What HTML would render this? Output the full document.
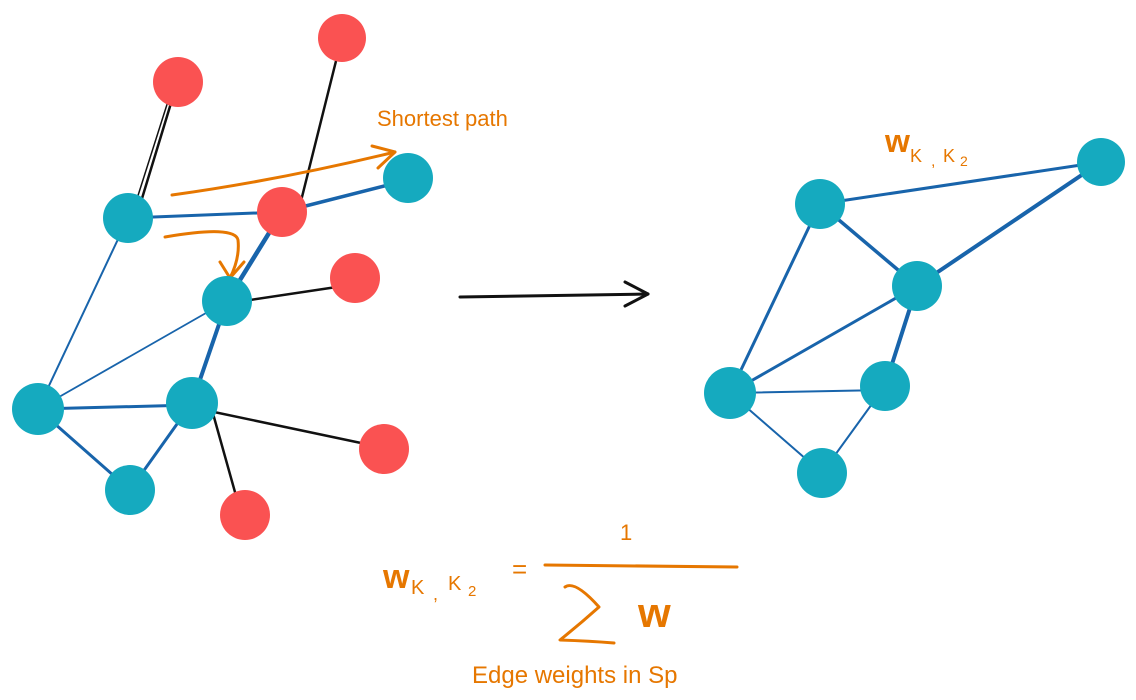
<!DOCTYPE html>
<html><head><meta charset="utf-8"><style>html,body{margin:0;padding:0;background:#fff}svg{display:block}</style></head>
<body>
<svg width="1136" height="700" viewBox="0 0 1136 700" xmlns="http://www.w3.org/2000/svg">
<g stroke-linecap="round" stroke-linejoin="round" fill="none">
<g stroke="#111" stroke-width="2.5">
<line x1="175" y1="90" x2="140" y2="205"/><line x1="170" y1="95" x2="135" y2="205" stroke-width="1.5"/>
<line x1="340" y1="45" x2="300" y2="205"/>
<line x1="230" y1="303" x2="350" y2="285"/>
<line x1="195" y1="408" x2="380" y2="447"/>
<line x1="212" y1="410" x2="240" y2="510"/>
</g>
<g stroke="#1864ab">
<line x1="128" y1="218" x2="282" y2="212" stroke-width="3"/>
<line x1="282" y1="212" x2="408" y2="180" stroke-width="3.5"/>
<line x1="282" y1="212" x2="227" y2="301" stroke-width="4.5"/>
<line x1="128" y1="218" x2="38" y2="409" stroke-width="2"/>
<line x1="227" y1="301" x2="38" y2="409" stroke-width="1.8"/>
<line x1="227" y1="301" x2="192" y2="403" stroke-width="4"/>
<line x1="38" y1="409" x2="192" y2="405" stroke-width="3"/>
<line x1="38" y1="409" x2="130" y2="490" stroke-width="3"/>
<line x1="130" y1="490" x2="192" y2="403" stroke-width="3"/>
</g>
<g stroke="#e67700" stroke-width="3">
<path d="M172 195 Q280 180 395 152"/>
<path d="M372 146 L395 152 L378 168"/>
<path d="M165 237 Q235 225 238 240 Q240 258 230 278"/>
<path d="M220 262 L230 278 L244 262"/>
</g>
<g stroke="#111" stroke-width="3">
<line x1="460" y1="297" x2="648" y2="294"/>
<path d="M625 282 L648 294 L625 306"/>
</g>
<g stroke="#1864ab">
<line x1="820" y1="204" x2="1101" y2="162" stroke-width="3"/>
<line x1="820" y1="204" x2="917" y2="286" stroke-width="3.5"/>
<line x1="917" y1="286" x2="1101" y2="162" stroke-width="4"/>
<line x1="820" y1="204" x2="730" y2="393" stroke-width="3"/>
<line x1="917" y1="286" x2="730" y2="393" stroke-width="3"/>
<line x1="917" y1="286" x2="885" y2="386" stroke-width="4"/>
<line x1="730" y1="393" x2="885" y2="390" stroke-width="2"/>
<line x1="730" y1="393" x2="822" y2="473" stroke-width="2"/>
<line x1="885" y1="386" x2="822" y2="473" stroke-width="2"/>
</g>
<line x1="545" y1="565" x2="737" y2="567" stroke="#e67700" stroke-width="3"/>
<path d="M565 587 Q575 580 599 607 Q580 624 560 640 Q590 641 614 643" stroke="#e67700" stroke-width="3"/>
</g>
<g fill="#fa5252">
<circle cx="342" cy="38" r="24"/><circle cx="178" cy="82" r="25"/><circle cx="282" cy="212" r="25"/>
<circle cx="355" cy="278" r="25"/><circle cx="384" cy="449" r="25"/><circle cx="245" cy="515" r="25"/>
</g>
<g fill="#15aabf">
<circle cx="128" cy="218" r="25"/><circle cx="408" cy="178" r="25"/><circle cx="227" cy="301" r="25"/>
<circle cx="38" cy="409" r="26"/><circle cx="192" cy="403" r="26"/><circle cx="130" cy="490" r="25"/>
<circle cx="820" cy="204" r="25"/><circle cx="1101" cy="162" r="24"/><circle cx="917" cy="286" r="25"/>
<circle cx="730" cy="393" r="26"/><circle cx="885" cy="386" r="25"/><circle cx="822" cy="473" r="25"/>
</g>
<g fill="#e67700" font-family="'Liberation Sans', sans-serif">
<text x="377" y="126" font-size="22">Shortest path</text>
<text x="885" y="152" font-size="32" font-weight="bold">w</text>
<text x="910" y="162" font-size="18">K</text><text x="931" y="166" font-size="16">,</text><text x="943" y="162" font-size="18">K</text><text x="960" y="166" font-size="14">2</text>
<text x="383" y="588" font-size="34" font-weight="bold">w</text>
<text x="411" y="594" font-size="20">K</text><text x="433" y="600" font-size="18">,</text><text x="448" y="590" font-size="20">K</text><text x="468" y="596" font-size="15">2</text>
<text x="512" y="578" font-size="26">=</text>
<text x="620" y="540" font-size="22">1</text>
<text x="638" y="627" font-size="42" font-weight="bold">w</text>
<text x="472" y="683" font-size="24">Edge weights in Sp</text>
</g>
</svg>
</body></html>
